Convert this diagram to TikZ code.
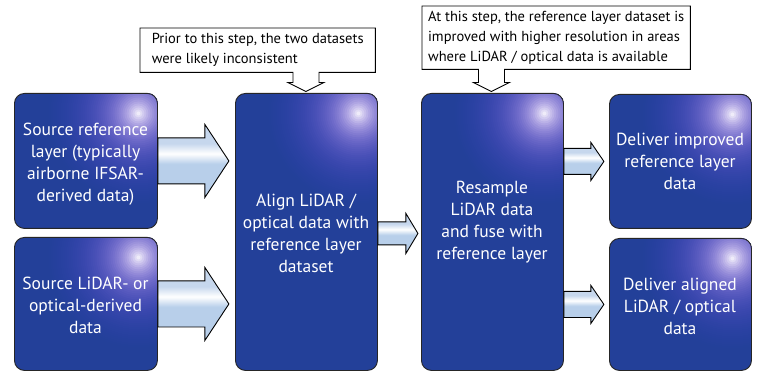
\documentclass[tikz,border=0pt]{standalone}
\usepackage{fontspec}
\setmainfont{PT Sans}
\usetikzlibrary{calc}
\definecolor{boxblue}{RGB}{35,64,153}
\definecolor{arrowblue}{RGB}{184,207,234}
\definecolor{arrowtop}{RGB}{198,215,237}
\pgfdeclareverticalshading{arrowshade}{100bp}{color(0bp)=(arrowblue); color(48bp)=(arrowblue); color(55bp)=(white); color(62bp)=(arrowtop); color(100bp)=(arrowtop)}
\tikzset{
  box/.style={draw=black!85, line width=0.9pt, rounded corners=10pt, fill=boxblue,
    inner sep=0pt, anchor=north west,
    path picture={
      \coordinate (gc) at ([xshift=-19pt,yshift=-20pt]path picture bounding box.north east);
      \foreach \rr in {90,88,...,2} {
        \pgfmathsetmacro\gt{(exp(-\rr/28)-exp(-92/28))/(1-exp(-92/28))}
        \pgfmathtruncatemacro\gR{35+220*\gt}
        \pgfmathtruncatemacro\gG{64+191*\gt^1.4}
        \pgfmathtruncatemacro\gB{153+102*\gt^0.7}
        \definecolor{gcol}{RGB}{\gR,\gG,\gB}
        \fill[gcol] (gc) circle (\rr pt);
      }
    }},
  btext/.style={text=white, align=center, inner sep=0pt, font=\fontsize{17.5}{22}\selectfont},
  ctext/.style={align=left, anchor=north west, inner xsep=0pt, inner ysep=0pt,
    font=\fontsize{14.5}{20}\selectfont},
  callout/.style={draw=black, line width=0.9pt, line join=miter},
  pics/barrow/.style args={#1/#2/#3/#4}{code={
    \shadedraw[shading=arrowshade, draw=black, line width=0.9pt]
      (0,-#3) -- ({#1-#2},-#3) -- ({#1-#2},-#4) -- (#1,0) -- ({#1-#2},#4) -- ({#1-#2},#3) -- (0,#3) -- cycle;
  }}
}
\begin{document}
\begin{tikzpicture}[x=1pt,y=-1pt]
\useasboundingbox (0,0) rectangle (760,371);
\fill[white] (0,0) rectangle (760,371);

% boxes
\node[box, minimum width=143pt, minimum height=135pt] (b1) at (14,93) {};
\node[box, minimum width=143pt, minimum height=133pt] (b2) at (14,237) {};
\node[box, minimum width=142pt, minimum height=277pt] (b3) at (235,93) {};
\node[box, minimum width=142pt, minimum height=277pt] (b4) at (421,93) {};
\node[box, minimum width=142pt, minimum height=134pt] (b5) at (609,94) {};
\node[box, minimum width=142pt, minimum height=132pt] (b6) at (609,238) {};

% box texts
\node[btext] (t1) at (85.5,164) {Source reference\\layer (typically\\airborne IFSAR-\\derived data)};
\node[btext] (t2) at (85.5,305) {Source LiDAR- or\\optical-derived\\data};
\node[btext] (t3) at (306,233) {Align LiDAR /\\optical data with\\reference layer\\dataset};
\node[btext] (t4) at (492,222) {Resample\\LiDAR data\\and fuse with\\reference layer};
\node[btext] (t5) at (680,161) {Deliver improved\\reference layer\\data};
\node[btext] (t6) at (680,306) {Deliver aligned\\LiDAR / optical\\data};

% block arrows
\pic at (b1.east) {barrow=71/24/23/36.5};
\pic at (b2.east) {barrow=71/24/23/36.5};
\pic at ($(b3.east)+(0,1.5)$) {barrow=40/12/11.5/20};
\pic at (b4.east |- b5.west) {barrow=40/13/13/19};
\pic at (b4.east |- b6.west) {barrow=40/13/13/19};

% callouts
\node[ctext, minimum width=235pt, minimum height=44pt] (c1) at (140,28)
  {Prior to this step, the two datasets\\were likely inconsistent};
\node[ctext, minimum width=268pt, minimum height=63pt] (c2) at (422,6)
  {At this step, the reference layer dataset is\\improved with higher resolution in areas\\where LiDAR / optical data is available};
\coordinate (p1) at ($(b3.north)+(-0.5,-1.5)$);
\coordinate (p2) at ($(b4.north)+(-1,-1.5)$);
\draw[callout] let \p1=(p1), \p2=(c1.south) in
  (c1.south west) -- (c1.north west) -- (c1.north east) -- (c1.south east)
  -- (\x1+13pt,\y2) -- (\x1+13pt,\y1+9pt) -- (\x1+18pt,\y1+9pt) -- (\x1,\y1)
  -- (\x1-18pt,\y1+9pt) -- (\x1-13pt,\y1+9pt) -- (\x1-13pt,\y2) -- cycle;
\draw[callout] let \p1=(p2), \p2=(c2.south) in
  (c2.south west) -- (c2.north west) -- (c2.north east) -- (c2.south east)
  -- (\x1+13pt,\y2) -- (\x1+13pt,\y1+9pt) -- (\x1+18pt,\y1+9pt) -- (\x1,\y1)
  -- (\x1-18pt,\y1+9pt) -- (\x1-13pt,\y1+9pt) -- (\x1-13pt,\y2) -- cycle;
\end{tikzpicture}
\end{document}
